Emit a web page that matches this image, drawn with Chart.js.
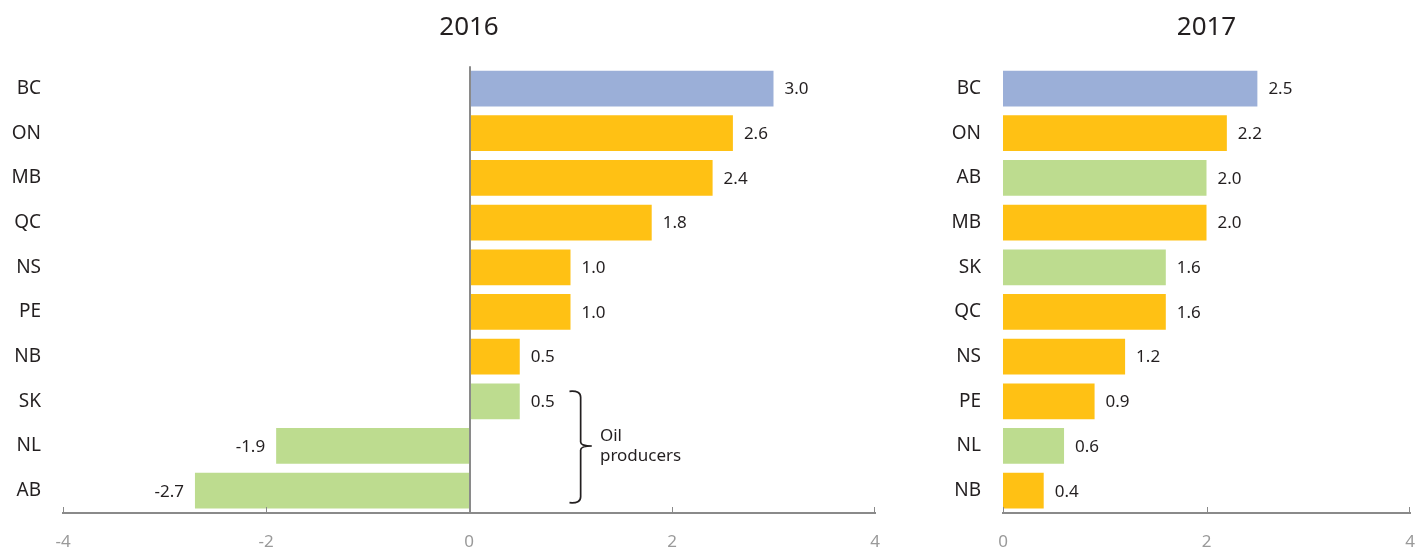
<!DOCTYPE html>
<html>
<head>
<meta charset="utf-8">
<script src="https://cdn.jsdelivr.net/npm/chart.js@4.4.1/dist/chart.umd.min.js"></script>
<style>
  html, body { margin: 0; padding: 0; background: #fff; overflow: hidden; }
  #wrap { position: relative; width: 1415px; height: 548px; overflow: hidden; }
  #chart2016 { position: absolute; left: 0; top: 0; }
  #chart2017 { position: absolute; left: 900px; top: 0; }
</style>
</head>
<body>
<div id="wrap">
  <canvas id="chart2016" width="900" height="548"></canvas>
  <canvas id="chart2017" width="515" height="548"></canvas>
</div>
<script>
  // data
  const provinces2016 = ['BC', 'ON', 'MB', 'QC', 'NS', 'PE', 'NB', 'SK', 'NL', 'AB'];
  const values2016 = [3.0, 2.6, 2.4, 1.8, 1.0, 1.0, 0.5, 0.5, -1.9, -2.7];

  const provinces2017 = ['BC', 'ON', 'AB', 'MB', 'SK', 'QC', 'NS', 'PE', 'NL', 'NB'];
  const values2017 = [2.5, 2.2, 2.0, 2.0, 1.6, 1.6, 1.2, 0.9, 0.6, 0.4];

  const oilProducers = ['SK', 'NL', 'AB'];
  const xTicks2016 = [-4, -2, 0, 2, 4];
  const xTicks2017 = [0, 2, 4];

  const FONT = "'Noto Sans', sans-serif";

  function barColor(p) {
    if (p === 'BC') return '#9bafd8';
    if (oilProducers.includes(p)) return '#bddc8f';
    return '#ffc114';
  }

  // value labels at bar ends
  const valueLabels = {
    id: 'valueLabels',
    afterDatasetsDraw(chart) {
      const ctx = chart.ctx;
      const meta = chart.getDatasetMeta(0);
      const data = chart.data.datasets[0].data;
      ctx.save();
      ctx.font = '17px ' + FONT;
      ctx.fillStyle = '#231f20';
      ctx.textBaseline = 'middle';
      meta.data.forEach((bar, i) => {
        const v = data[i];
        if (v >= 0) {
          ctx.textAlign = 'left';
          ctx.fillText(v.toFixed(1), bar.x + 11, bar.y + 1);
        } else {
          ctx.textAlign = 'right';
          ctx.fillText(v.toFixed(1), bar.x - 11, bar.y + 1);
        }
      });
      ctx.restore();
    }
  };

  // zero line + small upward tick marks on the x axis
  const axisMarks = {
    id: 'axisMarks',
    afterDraw(chart, args, opts) {
      const ctx = chart.ctx;
      const x = chart.scales.x;
      const area = chart.chartArea;
      ctx.save();
      ctx.strokeStyle = '#8a8a8a';
      if (opts.zeroLine) {
        const zx = Math.round(x.getPixelForValue(0)) + 1;
        ctx.lineWidth = 2;
        ctx.beginPath();
        ctx.moveTo(zx, area.top);
        ctx.lineTo(zx, area.bottom);
        ctx.stroke();
      }
      ctx.lineWidth = 1;
      x.ticks.forEach(t => {
        if (opts.zeroLine && t.value === 0) return;
        const px = Math.min(Math.round(x.getPixelForValue(t.value)) + 0.5, area.right - 0.5);
        ctx.beginPath();
        ctx.moveTo(px, area.bottom);
        ctx.lineTo(px, area.bottom - 6);
        ctx.stroke();
      });
      ctx.restore();
    }
  };

  // "Oil producers" bracket on the 2016 panel
  const oilBracket = {
    id: 'oilBracket',
    afterDraw(chart, args, opts) {
      if (!opts.show) return;
      const ctx = chart.ctx;
      const x = chart.scales.x;
      const y = chart.scales.y;
      const top = y.getPixelForValue(provinces2016.indexOf('SK')) - 10;
      const bottom = y.getPixelForValue(provinces2016.indexOf('AB')) + 12;
      const mid = y.getPixelForValue(provinces2016.indexOf('NL'));
      const xl = x.getPixelForValue(0.99);
      const xv = x.getPixelForValue(1.1);
      const xt = x.getPixelForValue(1.21);
      ctx.save();
      ctx.strokeStyle = '#231f20';
      ctx.lineWidth = 1.7;
      ctx.beginPath();
      ctx.moveTo(xl, top);
      ctx.quadraticCurveTo(xv, top - 1, xv, top + 6);
      ctx.lineTo(xv, mid - 4);
      ctx.quadraticCurveTo(xv, mid, xt, mid);
      ctx.quadraticCurveTo(xv, mid, xv, mid + 4);
      ctx.lineTo(xv, bottom - 6);
      ctx.quadraticCurveTo(xv, bottom + 1, xl, bottom);
      ctx.stroke();
      ctx.font = '17px ' + FONT;
      ctx.fillStyle = '#231f20';
      ctx.textAlign = 'left';
      ctx.textBaseline = 'middle';
      const tx = x.getPixelForValue(1.29);
      ctx.fillText('Oil', tx, mid - 10);
      ctx.fillText('producers', tx, mid + 10);
      ctx.restore();
    }
  };

  function makeChart(id, title, cats, vals, ticks, yWidth, padRight, zeroLine, bracket) {
    return new Chart(document.getElementById(id), {
      type: 'bar',
      data: {
        labels: cats,
        datasets: [{
          data: vals,
          backgroundColor: cats.map(barColor),
          borderWidth: 0,
          categoryPercentage: 0.8,
          barPercentage: 1.0
        }]
      },
      options: {
        indexAxis: 'y',
        responsive: false,
        animation: false,
        layout: { padding: { left: 0, right: padRight, top: 0, bottom: 0 } },
        plugins: {
          legend: { display: false },
          tooltip: { enabled: false },
          title: {
            display: true,
            text: title,
            fullSize: false,
            color: '#231f20',
            font: { family: FONT, size: 26, weight: 'normal' },
            padding: { top: 12, bottom: 23 }
          },
          axisMarks: { zeroLine: zeroLine },
          oilBracket: { show: bracket }
        },
        scales: {
          x: {
            min: ticks[0],
            max: ticks[ticks.length - 1],
            afterBuildTicks: (scale) => { scale.ticks = ticks.map(v => ({ value: v })); },
            afterFit: (scale) => {
              scale.height = 35;
              // let the end labels hang past the plot, the reference crops them
              scale.paddingLeft = 0;
              scale.paddingRight = 0;
            },
            grid: { display: false, drawTicks: false },
            border: { display: true, color: '#8a8a8a', width: 2 },
            ticks: {
              color: '#9a9a9a',
              padding: 19,
              font: { family: FONT, size: 17 }
            }
          },
          y: {
            afterFit: (scale) => { scale.width = yWidth; },
            grid: { display: false, drawTicks: false },
            border: { display: false },
            ticks: {
              color: '#231f20',
              padding: 22,
              font: { family: FONT, size: 19 }
            }
          }
        }
      },
      plugins: [valueLabels, axisMarks, oilBracket]
    });
  }

  makeChart('chart2016', '2016', provinces2016, values2016, xTicks2016, 63, 25, true, true);
  makeChart('chart2017', '2017', provinces2017, values2017, xTicks2017, 103, 5, false, false);
</script>
</body>
</html>
